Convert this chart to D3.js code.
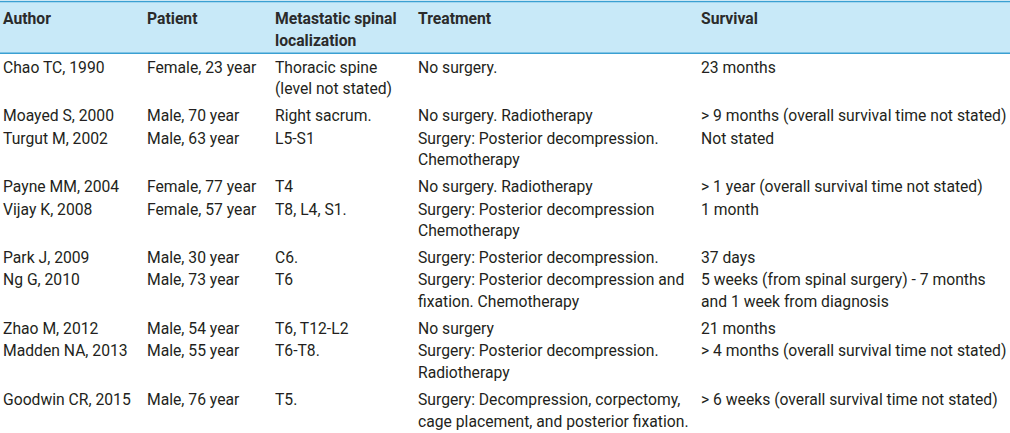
<!DOCTYPE html>
<html>
<head>
<meta charset="utf-8">
<script src="https://cdn.jsdelivr.net/npm/d3@7"></script>
<style>
  html, body { margin: 0; padding: 0; background: #fff; }
  svg text { font-family: Roboto, "Liberation Sans", sans-serif; font-size: 15.7px; fill: #231f20; }
  svg text.head { font-weight: bold; fill: #2b2b2b; }
</style>
</head>
<body>
<div id="table"></div>
<script>
// table contents, line breaks as they wrap in the source
const columns = ["Author", "Patient", "Metastatic spinal\nlocalization", "Treatment", "Survival"];
const authors = ["Chao TC, 1990", "Moayed S, 2000", "Turgut M, 2002", "Payne MM, 2004", "Vijay K, 2008",
    "Park J, 2009", "Ng G, 2010", "Zhao M, 2012", "Madden NA, 2013", "Goodwin CR, 2015"];
const patients = ["Female, 23 year", "Male, 70 year", "Male, 63 year", "Female, 77 year", "Female, 57 year",
    "Male, 30 year", "Male, 73 year", "Male, 54 year", "Male, 55 year", "Male, 76 year"];
const localizations = ["Thoracic spine\n(level not stated)", "Right sacrum.", "L5-S1", "T4", "T8, L4, S1.",
    "C6.", "T6", "T6, T12-L2", "T6-T8.", "T5."];
const treatments = ["No surgery.", "No surgery. Radiotherapy", "Surgery: Posterior decompression.\nChemotherapy",
    "No surgery. Radiotherapy", "Surgery: Posterior decompression\nChemotherapy", "Surgery: Posterior decompression.",
    "Surgery: Posterior decompression and\nfixation. Chemotherapy", "No surgery",
    "Surgery: Posterior decompression.\nRadiotherapy",
    "Surgery: Decompression, corpectomy,\ncage placement, and posterior fixation."];
const survivals = ["23 months", "> 9 months (overall survival time not stated)", "Not stated",
    "> 1 year (overall survival time not stated)", "1 month", "37 days",
    "5 weeks (from spinal surgery) - 7 months\nand 1 week from diagnosis", "21 months",
    "> 4 months (overall survival time not stated)", "> 6 weeks (overall survival time not stated)"];

const width = 1010, height = 433;
const headerTop = 1.5, headerBottom = 53.3;
const lineHeight = 21.7;

const rows = authors.map((a, i) => [a, patients[i], localizations[i], treatments[i], survivals[i]]
    .map(s => s.split("\n")));

// x position of each column
const x = d3.scaleOrdinal()
    .domain(d3.range(columns.length))
    .range([3, 147, 275, 418, 701]);

// baseline of the first line of every row; a one-line row takes 22.3px, each extra line 26.3px
let y0 = 72.7;
const rowBaselines = rows.map(r => {
    const n = d3.max(r, c => c.length);
    const b = y0;
    y0 += 22.3 + (n - 1) * 26.3;
    return b;
});

const svg = d3.select("#table")
    .append("svg")
    .attr("width", width)
    .attr("height", height);

// header band
svg.append("rect")
    .attr("x", 0)
    .attr("y", headerTop)
    .attr("width", width)
    .attr("height", headerBottom - headerTop)
    .attr("fill", "#c8e9f8");
svg.append("line")
    .attr("x1", 0).attr("x2", width)
    .attr("y1", headerTop).attr("y2", headerTop)
    .attr("stroke", "#3aa0d2").attr("stroke-width", 1.5);
svg.append("line")
    .attr("x1", 0).attr("x2", width)
    .attr("y1", headerBottom).attr("y2", headerBottom)
    .attr("stroke", "#3aa0d2").attr("stroke-width", 1.5);

svg.selectAll("text.head")
    .data(columns)
    .join("text")
    .attr("class", "head")
    .attr("x", (d, i) => x(i))
    .attr("y", 24)
    .selectAll("tspan")
    .data(d => d.split("\n"))
    .join("tspan")
    .attr("x", function() { return this.parentNode.getAttribute("x"); })
    .attr("dy", (d, k) => k === 0 ? 0 : lineHeight)
    .text(d => d);

// body cells
const rowG = svg.selectAll("g.row")
    .data(rows)
    .join("g")
    .attr("class", "row")
    .attr("transform", (d, i) => `translate(0,${rowBaselines[i]})`);

rowG.selectAll("text")
    .data(d => d)
    .join("text")
    .attr("x", (d, i) => x(i))
    .attr("y", 0)
    .selectAll("tspan")
    .data(d => d)
    .join("tspan")
    .attr("x", function() { return this.parentNode.getAttribute("x"); })
    .attr("dy", (d, k) => k === 0 ? 0 : lineHeight)
    .text(d => d);
</script>
</body>
</html>
